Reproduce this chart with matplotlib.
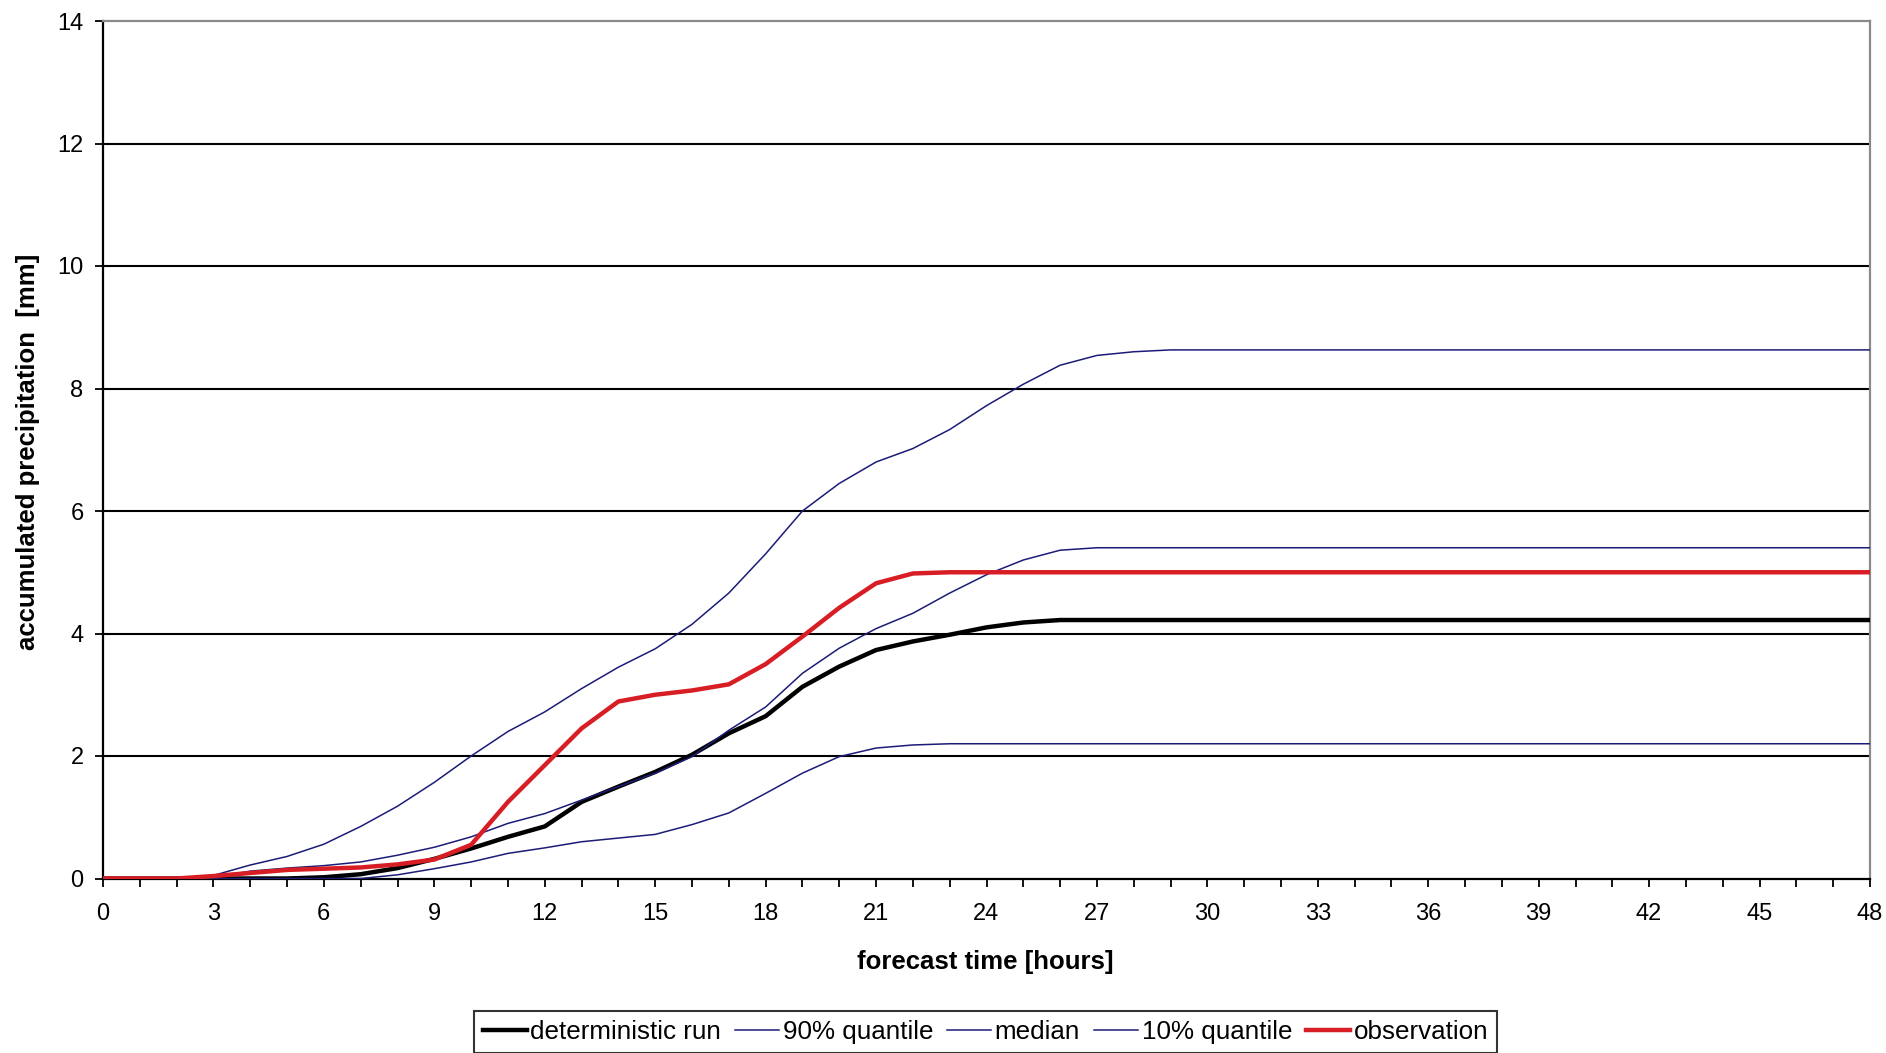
import matplotlib
matplotlib.use("Agg")
import matplotlib.pyplot as plt
from matplotlib.ticker import MultipleLocator

plt.rcParams['font.family'] = ['Liberation Sans', 'DejaVu Sans']

# ---- data ----
hours = [0, 1, 2, 3, 4, 5, 6, 7, 8, 9, 10, 11, 12, 13, 14, 15, 16, 17, 18, 19,
         20, 21, 22, 23, 24, 25, 26, 27, 28, 29, 30, 48]

deterministic = [0, 0, 0, 0, 0, 0, 0.02, 0.07, 0.17, 0.32, 0.49, 0.68, 0.85, 1.25,
                 1.50, 1.74, 2.02, 2.37, 2.65, 3.13, 3.46, 3.73, 3.87, 3.98, 4.10,
                 4.18, 4.22, 4.22, 4.22, 4.22, 4.22, 4.22]

q90 = [0, 0, 0, 0.05, 0.22, 0.36, 0.56, 0.85, 1.18, 1.57, 2.00, 2.40, 2.72, 3.10,
       3.45, 3.75, 4.15, 4.66, 5.30, 6.00, 6.45, 6.80, 7.02, 7.33, 7.72, 8.07,
       8.38, 8.54, 8.60, 8.63, 8.63, 8.63]

median = [0, 0, 0, 0.02, 0.12, 0.17, 0.21, 0.27, 0.38, 0.51, 0.68, 0.90, 1.06, 1.28,
          1.50, 1.72, 1.99, 2.42, 2.80, 3.35, 3.76, 4.08, 4.33, 4.66, 4.96, 5.20,
          5.36, 5.40, 5.40, 5.40, 5.40, 5.40]

q10 = [0, 0, 0, 0, 0, 0, 0, 0, 0.06, 0.16, 0.27, 0.41, 0.50, 0.60, 0.66, 0.72,
       0.88, 1.07, 1.39, 1.72, 1.99, 2.13, 2.18, 2.20, 2.20, 2.20, 2.20, 2.20,
       2.20, 2.20, 2.20, 2.20]

observation = [0, 0, 0, 0.04, 0.09, 0.14, 0.16, 0.18, 0.23, 0.31, 0.55, 1.25, 1.85,
               2.45, 2.89, 3.00, 3.07, 3.17, 3.50, 3.95, 4.42, 4.82, 4.98, 5.00,
               5.00, 5.00, 5.00, 5.00, 5.00, 5.00, 5.00, 5.00]

series_labels = ["deterministic run", "90% quantile", "median", "10% quantile", "observation"]
x_ticks = [0, 3, 6, 9, 12, 15, 18, 21, 24, 27, 30, 33, 36, 39, 42, 45, 48]
y_ticks = [0, 2, 4, 6, 8, 10, 12, 14]

# ---- figure ----
W, H = 1886, 1053
fig = plt.figure(figsize=(W / 100, H / 100), dpi=100)
ax = fig.add_axes([103 / W, 1 - 878.5 / H, (1870 - 103) / W, (878.5 - 21) / H])

navy = '#1c1c78'
red = '#d81e25'

ax.plot(hours, deterministic, color='black', lw=3.2, label=series_labels[0], zorder=3)
ax.plot(hours, q90, color=navy, lw=1.1, label=series_labels[1], zorder=4)
ax.plot(hours, median, color=navy, lw=1.1, label=series_labels[2], zorder=4)
ax.plot(hours, q10, color=navy, lw=1.1, label=series_labels[3], zorder=4)
ax.plot(hours, observation, color=red, lw=3.2, label=series_labels[4], zorder=5)

ax.set_xlim(0, 48)
ax.set_ylim(0, 14)
ax.set_xticks(x_ticks)
ax.xaxis.set_minor_locator(MultipleLocator(1))
ax.set_yticks(y_ticks)

# gridlines at each major y tick except the top (top is border)
for v in y_ticks[1:-1]:
    ax.axhline(v, color='black', lw=1.5, zorder=1)

for s in ['left', 'bottom']:
    ax.spines[s].set_color('black')
    ax.spines[s].set_linewidth(1.6)
for s in ['top', 'right']:
    ax.spines[s].set_color('#8a8a8a')
    ax.spines[s].set_linewidth(1.6)

ax.tick_params(axis='both', which='both', direction='out', length=6, width=1.3,
               colors='black', labelsize=17)
ax.tick_params(axis='x', which='both', pad=12)
ax.tick_params(axis='y', pad=8)

ax.set_xlabel("forecast time [hours]", fontsize=18.5, fontweight='bold', va='center')
ax.xaxis.set_label_coords((985.5 - 103) / 1767, (878.5 - 962) / 857.5)
ax.set_ylabel("accumulated precipitation  [mm]", fontsize=18.5, fontweight='bold',
              va='center', ha='center')
ax.yaxis.set_label_coords((28 - 103) / 1767, (878.5 - 451.5) / 857.5)

leg = fig.legend(loc='upper center', bbox_to_anchor=(985.5 / W, 1 - 1011 / H),
                 ncol=5, fontsize=18.7, frameon=True, fancybox=False,
                 handlelength=1.7, handletextpad=0.12, columnspacing=0.55,
                 borderpad=0.35, borderaxespad=0)
leg.get_frame().set_edgecolor('black')
leg.get_frame().set_linewidth(1.5)

fig.savefig("out.png", dpi=100)
